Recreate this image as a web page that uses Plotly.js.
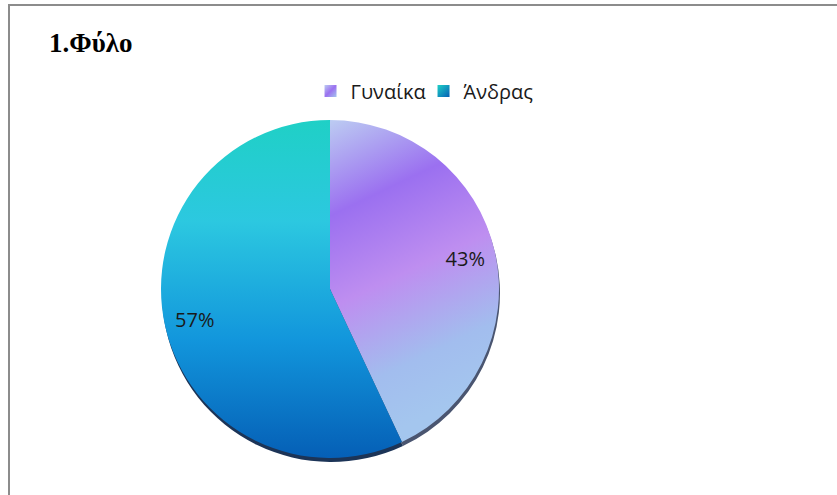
<!DOCTYPE html>
<html>
<head>
<meta charset="utf-8">
<script src="https://cdn.plot.ly/plotly-3.0.1.min.js"></script>
<style>
  html, body { margin: 0; padding: 0; background: #fff; overflow: hidden; }
  #wrap { position: relative; width: 837px; height: 495px; }
  #chart { position: absolute; left: 0; top: 0; width: 837px; height: 495px; }
  #frame { position: absolute; left: 8px; top: 4px; width: 900px; height: 600px;
           border-left: 2px solid #8c8c8c; border-top: 2px solid #8c8c8c; pointer-events: none; }
</style>
</head>
<body>
<div id="wrap">
  <div id="chart"></div>
  <div id="frame"></div>
</div>
<script>
const titleText = '1.Φύλο';
const categories = ['Γυναίκα', 'Άνδρας'];
const values = [43, 57];
const sliceColors = ['#a98cf0', '#1b9fdc'];
const shadowColors = ['#4a5570', '#1c3457'];

const W = 837, H = 495;
const cx = 330, cy = 289, r = 169;
const dom = (dx, dy) => ({
  x: [(cx - r + dx) / W, (cx + r + dx) / W],
  y: [1 - (cy + r + dy) / H, 1 - (cy - r + dy) / H]
});

const common = {
  type: 'pie', labels: categories, values: values,
  sort: false, direction: 'clockwise', rotation: 0
};

const shadow = Object.assign({}, common, {
  textinfo: 'none', hoverinfo: 'skip', showlegend: false,
  marker: { colors: shadowColors, line: { width: 0 } },
  domain: dom(1, 4)
});

const main = Object.assign({}, common, {
  textinfo: 'none',
  marker: { colors: sliceColors, line: { width: 0 } },
  domain: dom(0, 0)
});

const labelsRing = Object.assign({}, common, {
  hole: 0.64,
  showlegend: false,
  textinfo: 'percent',
  texttemplate: '%{percent:.0%}',
  textposition: 'inside',
  insidetextorientation: 'horizontal',
  textfont: { family: 'Open Sans, sans-serif', size: 20, color: '#1a1a1a' },
  marker: { colors: ['rgba(0,0,0,0)', 'rgba(0,0,0,0)'], line: { width: 0 } },
  domain: dom(0, 0)
});

const layout = {
  width: W, height: H,
  margin: { l: 0, r: 0, t: 0, b: 0 },
  paper_bgcolor: '#ffffff',
  title: {
    text: '<b>' + titleText + '</b>',
    x: 49 / W, xanchor: 'left', xref: 'paper',
    y: 1 - 43 / H, yanchor: 'middle', yref: 'paper',
    font: { family: 'Liberation Serif, Times New Roman, serif', size: 27, color: '#000' }
  },
  showlegend: true,
  legend: {
    orientation: 'h',
    x: 0.371, xanchor: 'left',
    y: 1 - 91 / H, yanchor: 'middle',
    font: { family: 'Open Sans, sans-serif', size: 20, color: '#1a1a1a' },
    itemwidth: 30,
    entrywidth: 68, entrywidthmode: 'pixels'
  }
};

function addGradients(gd) {
  const svg = gd.querySelector('svg.main-svg');
  const ns = 'http://www.w3.org/2000/svg';
  let defs = svg.querySelector('defs');
  if (!defs) { defs = document.createElementNS(ns, 'defs'); svg.insertBefore(defs, svg.firstChild); }
  const mk = (id, stops, x2, y2) => {
    const g = document.createElementNS(ns, 'linearGradient');
    g.setAttribute('id', id);
    g.setAttribute('x1', '0'); g.setAttribute('y1', '0');
    g.setAttribute('x2', x2); g.setAttribute('y2', y2);
    stops.forEach(([o, c]) => {
      const s = document.createElementNS(ns, 'stop');
      s.setAttribute('offset', o); s.setAttribute('stop-color', c);
      g.appendChild(s);
    });
    defs.appendChild(g);
  };
  mk('gradW', [[0, '#bcccf2'], [0.28, '#9b70f0'], [0.55, '#be8ef0'], [0.82, '#a2bdee'], [1, '#a4c6ee']], '0.25', '1');
  mk('gradM', [[0, '#1fd0c6'], [0.3, '#2cc8e0'], [0.65, '#1296dc'], [1, '#055fb6']], '0', '1');
  mk('gradLW', [[0, '#bcccf2'], [0.5, '#9b70f0'], [1, '#a4c6ee']], '1', '1');
  mk('gradLM', [[0, '#1fd0c6'], [1, '#055fb6']], '1', '1');
  const traces = gd.querySelectorAll('.pielayer .trace');
  const mainSlices = traces[1].querySelectorAll('.slice path.surface');
  if (mainSlices[0]) mainSlices[0].style.fill = 'url(#gradW)';
  if (mainSlices[1]) mainSlices[1].style.fill = 'url(#gradM)';
  const legendPts = gd.querySelectorAll('.legend .legendpoints path');
  if (legendPts[0]) legendPts[0].style.fill = 'url(#gradLW)';
  if (legendPts[1]) legendPts[1].style.fill = 'url(#gradLM)';
}

Plotly.newPlot('chart', [shadow, main, labelsRing], layout, { displayModeBar: false, staticPlot: true })
  .then(addGradients);
</script>
</body>
</html>
